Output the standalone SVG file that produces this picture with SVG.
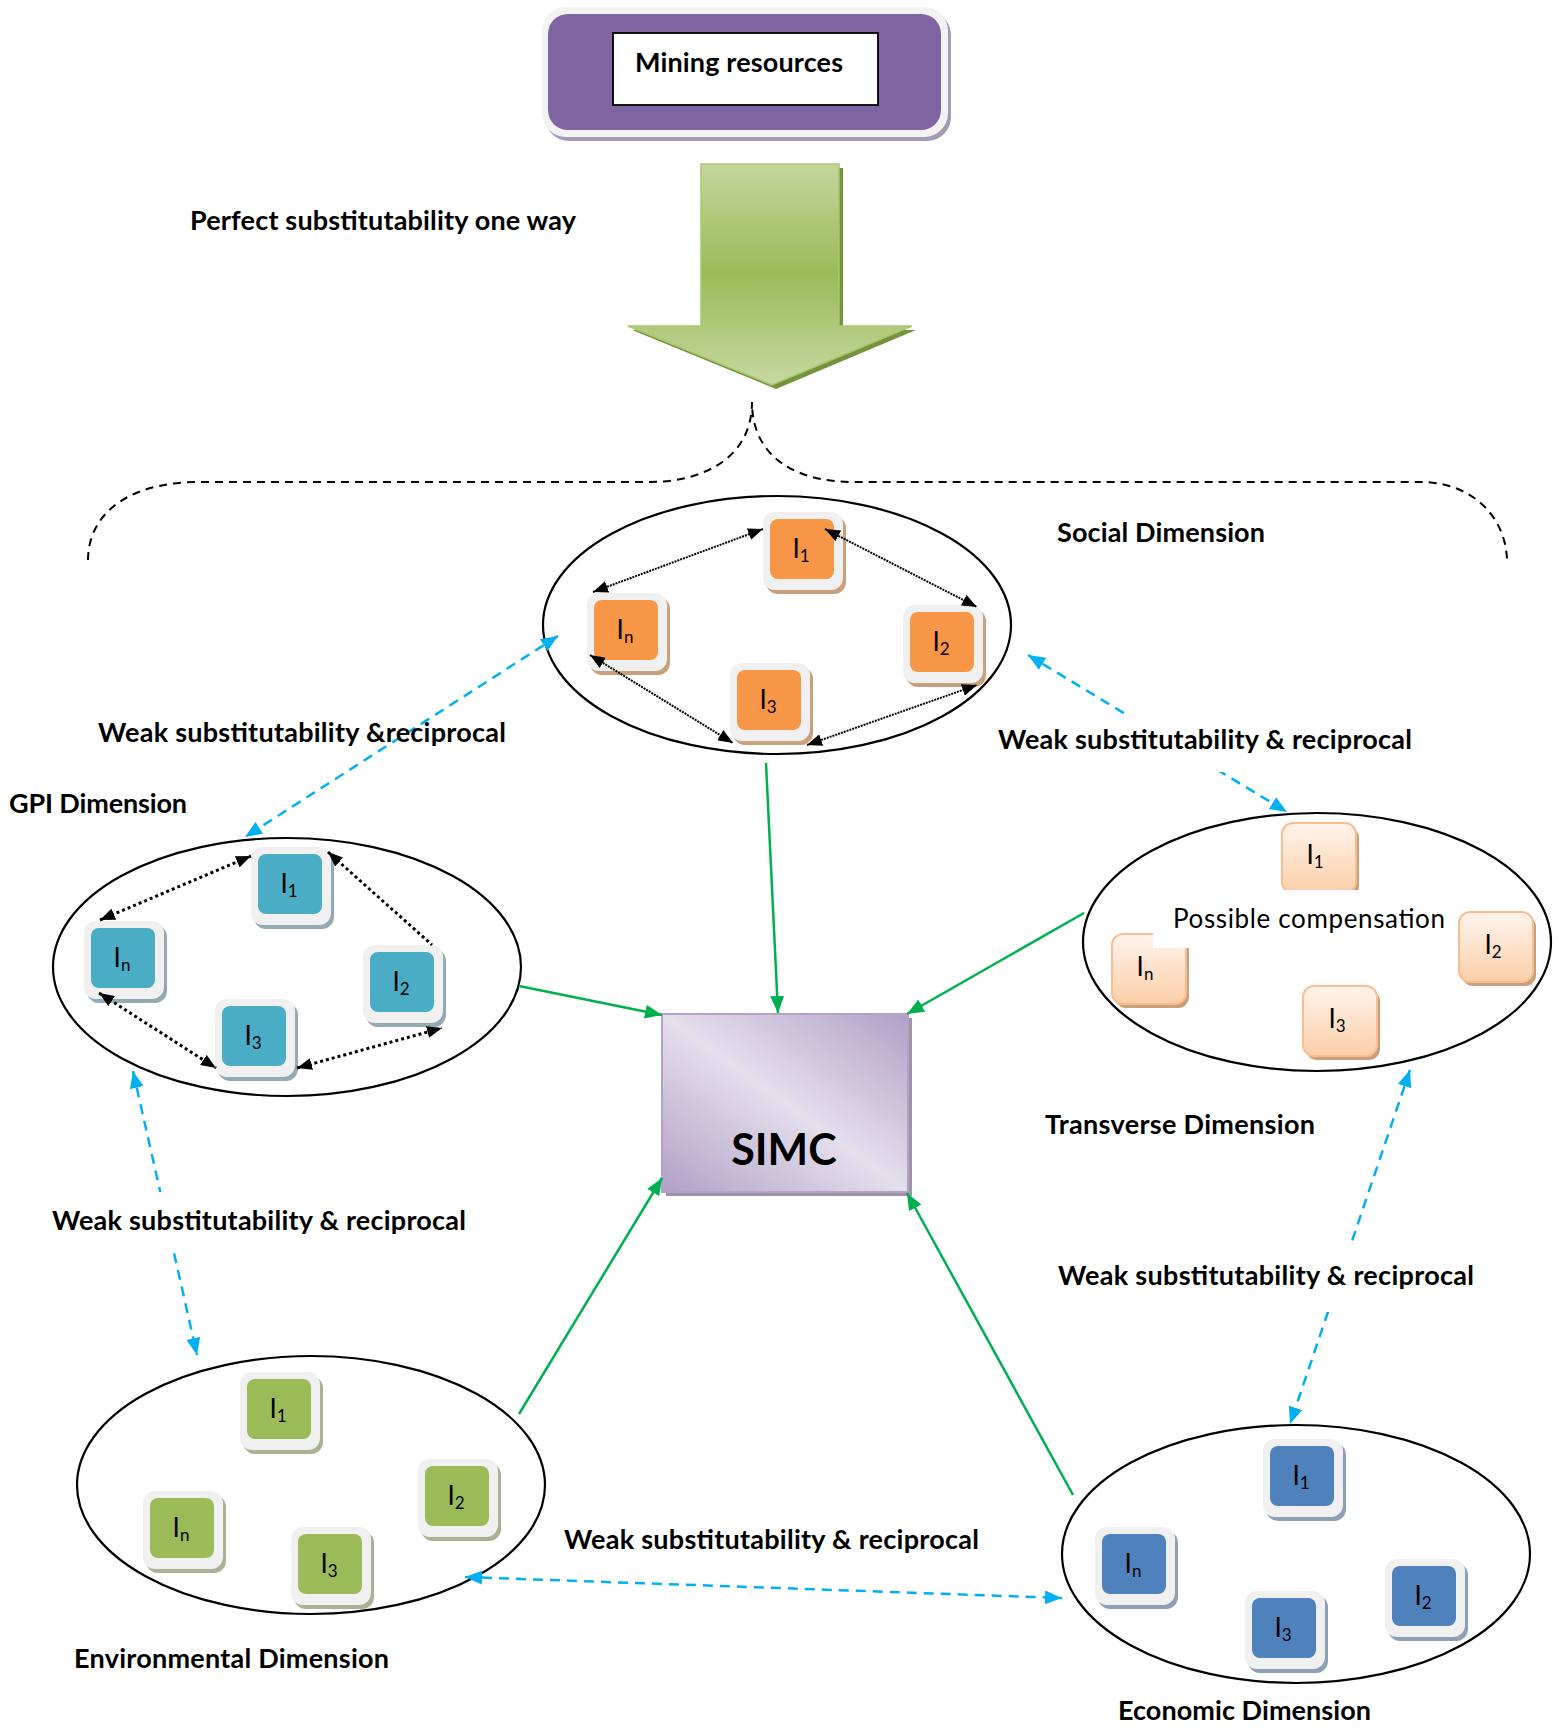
<svg xmlns="http://www.w3.org/2000/svg" width="1560" height="1729" viewBox="0 0 1560 1729">
<style>
.lbl{font-family:Lato,"Open Sans","Liberation Sans",sans-serif;font-weight:bold;font-size:27px;fill:#000}
.t{font-family:Lato,"Open Sans","Liberation Sans",sans-serif;font-size:26px;fill:#000;text-anchor:middle}
.s{font-size:17px}
.ell{fill:none;stroke:#000;stroke-width:2.2}
.tout{fill:#f0f0f0}
.blk{stroke:#000;stroke-width:2;stroke-dasharray:2 1;fill:none}
.dot{stroke:#000;stroke-width:3;stroke-dasharray:3 3;fill:none}
.grn{stroke:#00b050;stroke-width:2.5;fill:none}
.blu{stroke:#00b0f0;stroke-width:2.5;stroke-dasharray:10 7;fill:none}
.bg{fill:#fff}
</style>
<defs>
<marker id="mb" markerUnits="userSpaceOnUse" markerWidth="16" markerHeight="12" refX="15" refY="6" orient="auto-start-reverse"><path d="M0,0 L15,6 L0,12 z" fill="#000"/></marker>
<marker id="mg" markerUnits="userSpaceOnUse" markerWidth="18" markerHeight="14" refX="17" refY="7" orient="auto"><path d="M0,0 L17,7 L0,14 z" fill="#00b050"/></marker>
<marker id="mu" markerUnits="userSpaceOnUse" markerWidth="18" markerHeight="14" refX="17" refY="7" orient="auto-start-reverse"><path d="M0,0 L17,7 L0,14 z" fill="#00b0f0"/></marker>
<linearGradient id="ga" x1="0" y1="0" x2="0" y2="1"><stop offset="0" stop-color="#c3d69b"/><stop offset="0.5" stop-color="#9bbb59"/><stop offset="1" stop-color="#c6d9a0"/></linearGradient>
<linearGradient id="gs" x1="1" y1="0" x2="0" y2="1"><stop offset="0" stop-color="#b1a0c7"/><stop offset="0.5" stop-color="#e5dfec"/><stop offset="1" stop-color="#b1a0c7"/></linearGradient>
<linearGradient id="gp" x1="0" y1="0" x2="0" y2="1"><stop offset="0" stop-color="#fff4ec"/><stop offset="1" stop-color="#fbcfa9"/></linearGradient>
</defs>

<!-- brace -->
<path d="M88,560 C88,520 120,482 200,482 L650,482 C700,482 752,460 752,402 C752,460 800,482 853,482 L1420,482 C1475,482 1507,520 1507,562" fill="none" stroke="#000" stroke-width="2" stroke-dasharray="8 6"/>

<g id="mining">
<rect x="545" y="11" width="406" height="130" rx="24" fill="#a39bb3"/>
<rect x="542" y="7" width="406" height="130" rx="24" fill="#f2f2f2"/>
<rect x="548" y="14" width="393" height="116" rx="20" fill="#8064a2"/>
<rect x="613" y="33" width="265" height="72" fill="#fff" stroke="#000" stroke-width="1.8"/>
<text class="lbl" x="635" y="72" textLength="208">Mining resources</text>
</g>

<g id="bigarrow">
<polygon points="705,168 843,168 843,330 916,330 776,389 632,330 705,330" fill="#76923c"/>
<polygon points="701,164 839,164 839,326 912,326 772,385 628,326 701,326" fill="url(#ga)" stroke="#a9c66f" stroke-width="1.5"/>
</g>
<text class="lbl" x="190" y="230" textLength="386">Perfect substitutability one way</text>

<g id="social">
<ellipse class="ell" cx="777" cy="625" rx="234" ry="129"/>
<g>
<rect x="766" y="516" width="80" height="78" rx="12" fill="#c8a07c"/><rect class="tout" x="763" y="512" width="80" height="78" rx="12"/><rect x="770" y="519" width="64" height="60" rx="8" fill="#f79646"/>
<text class="t" x="801" y="558">I<tspan class="s" dy="4">1</tspan></text>
</g>
<g>
<rect x="590" y="597" width="80" height="78" rx="12" fill="#c8a07c"/><rect class="tout" x="587" y="593" width="80" height="78" rx="12"/><rect x="594" y="600" width="64" height="60" rx="8" fill="#f79646"/>
<text class="t" x="625" y="639">I<tspan class="s" dy="4">n</tspan></text>
</g>
<g>
<rect x="906" y="609" width="80" height="78" rx="12" fill="#c8a07c"/><rect class="tout" x="903" y="605" width="80" height="78" rx="12"/><rect x="910" y="612" width="64" height="60" rx="8" fill="#f79646"/>
<text class="t" x="941" y="651">I<tspan class="s" dy="4">2</tspan></text>
</g>
<g>
<rect x="733" y="667" width="80" height="78" rx="12" fill="#c8a07c"/><rect class="tout" x="730" y="663" width="80" height="78" rx="12"/><rect x="737" y="670" width="64" height="60" rx="8" fill="#f79646"/>
<text class="t" x="768" y="709">I<tspan class="s" dy="4">3</tspan></text>
</g>
<line class="blk" x1="593" y1="592" x2="763" y2="529" marker-start="url(#mb)" marker-end="url(#mb)"/>
<line class="blk" x1="825" y1="529" x2="977" y2="607" marker-start="url(#mb)" marker-end="url(#mb)"/>
<line class="blk" x1="590" y1="655" x2="733" y2="743" marker-start="url(#mb)" marker-end="url(#mb)"/>
<line class="blk" x1="807" y1="745" x2="977" y2="685" marker-start="url(#mb)" marker-end="url(#mb)"/>
</g>
<text class="lbl" x="1057" y="542" textLength="208">Social Dimension</text>

<g id="gpi">
<ellipse class="ell" cx="287" cy="967" rx="234" ry="129"/>
<g>
<rect x="254" y="851" width="80" height="78" rx="12" fill="#93a9b3"/><rect class="tout" x="251" y="847" width="80" height="78" rx="12"/><rect x="258" y="854" width="64" height="60" rx="8" fill="#4bacc6"/>
<text class="t" x="289" y="893">I<tspan class="s" dy="4">1</tspan></text>
</g>
<g>
<rect x="87" y="925" width="80" height="78" rx="12" fill="#93a9b3"/><rect class="tout" x="84" y="921" width="80" height="78" rx="12"/><rect x="91" y="928" width="64" height="60" rx="8" fill="#4bacc6"/>
<text class="t" x="122" y="967">I<tspan class="s" dy="4">n</tspan></text>
</g>
<g>
<rect x="366" y="949" width="80" height="78" rx="12" fill="#93a9b3"/><rect class="tout" x="363" y="945" width="80" height="78" rx="12"/><rect x="370" y="952" width="64" height="60" rx="8" fill="#4bacc6"/>
<text class="t" x="401" y="991">I<tspan class="s" dy="4">2</tspan></text>
</g>
<g>
<rect x="218" y="1003" width="80" height="78" rx="12" fill="#93a9b3"/><rect class="tout" x="215" y="999" width="80" height="78" rx="12"/><rect x="222" y="1006" width="64" height="60" rx="8" fill="#4bacc6"/>
<text class="t" x="253" y="1045">I<tspan class="s" dy="4">3</tspan></text>
</g>
<line class="dot" x1="100" y1="920" x2="251" y2="856" marker-start="url(#mb)" marker-end="url(#mb)"/>
<line class="dot" x1="328" y1="852" x2="432" y2="945" marker-start="url(#mb)"/>
<line class="dot" x1="99" y1="993" x2="216" y2="1068" marker-start="url(#mb)" marker-end="url(#mb)"/>
<line class="dot" x1="297" y1="1068" x2="442" y2="1028" marker-start="url(#mb)" marker-end="url(#mb)"/>
</g>
<text class="lbl" x="9" y="813" textLength="178">GPI Dimension</text>

<g id="transverse">
<ellipse class="ell" cx="1317" cy="942" rx="234" ry="129"/>
<g>
<rect x="1285" y="827" width="74" height="70" rx="11" fill="#c8a07c"/><rect x="1282" y="823" width="74" height="70" rx="11" fill="url(#gp)" stroke="#f9be8f" stroke-width="2"/>
<text class="t" x="1315" y="864">I<tspan class="s" dy="4">1</tspan></text>
</g>
<g>
<rect x="1115" y="938" width="74" height="70" rx="11" fill="#c8a07c"/><rect x="1112" y="934" width="74" height="70" rx="11" fill="url(#gp)" stroke="#f9be8f" stroke-width="2"/>
<text class="t" x="1145" y="976">I<tspan class="s" dy="4">n</tspan></text>
</g>
<g>
<rect x="1462" y="916" width="74" height="70" rx="11" fill="#c8a07c"/><rect x="1459" y="912" width="74" height="70" rx="11" fill="url(#gp)" stroke="#f9be8f" stroke-width="2"/>
<text class="t" x="1493" y="954">I<tspan class="s" dy="4">2</tspan></text>
</g>
<g>
<rect x="1306" y="990" width="74" height="70" rx="11" fill="#c8a07c"/><rect x="1303" y="986" width="74" height="70" rx="11" fill="url(#gp)" stroke="#f9be8f" stroke-width="2"/>
<text class="t" x="1337" y="1028">I<tspan class="s" dy="4">3</tspan></text>
</g>
<rect class="bg" x="1153" y="890" width="300" height="58"/>
<text x="1173" y="928" textLength="272" style="font-family:Lato,'Open Sans','Liberation Sans',sans-serif;font-size:26px;fill:#000">Possible compensation</text>
</g>
<text class="lbl" x="1045" y="1134" textLength="270">Transverse Dimension</text>

<g id="environmental">
<ellipse class="ell" cx="311" cy="1485" rx="234" ry="129"/>
<g>
<rect x="243" y="1376" width="80" height="78" rx="12" fill="#a9b394"/><rect class="tout" x="240" y="1372" width="80" height="78" rx="12"/><rect x="247" y="1379" width="64" height="60" rx="8" fill="#9bbb59"/>
<text class="t" x="278" y="1418">I<tspan class="s" dy="4">1</tspan></text>
</g>
<g>
<rect x="421" y="1463" width="80" height="78" rx="12" fill="#a9b394"/><rect class="tout" x="418" y="1459" width="80" height="78" rx="12"/><rect x="425" y="1466" width="64" height="60" rx="8" fill="#9bbb59"/>
<text class="t" x="456" y="1505">I<tspan class="s" dy="4">2</tspan></text>
</g>
<g>
<rect x="146" y="1495" width="80" height="78" rx="12" fill="#a9b394"/><rect class="tout" x="143" y="1491" width="80" height="78" rx="12"/><rect x="150" y="1498" width="64" height="60" rx="8" fill="#9bbb59"/>
<text class="t" x="181" y="1537">I<tspan class="s" dy="4">n</tspan></text>
</g>
<g>
<rect x="294" y="1531" width="80" height="78" rx="12" fill="#a9b394"/><rect class="tout" x="291" y="1527" width="80" height="78" rx="12"/><rect x="298" y="1534" width="64" height="60" rx="8" fill="#9bbb59"/>
<text class="t" x="329" y="1573">I<tspan class="s" dy="4">3</tspan></text>
</g>
</g>
<text class="lbl" x="74" y="1668" textLength="315">Environmental Dimension</text>

<g id="economic">
<ellipse class="ell" cx="1296" cy="1554" rx="234" ry="129"/>
<g>
<rect x="1266" y="1443" width="80" height="78" rx="12" fill="#8f9fb8"/><rect class="tout" x="1263" y="1439" width="80" height="78" rx="12"/><rect x="1270" y="1446" width="64" height="60" rx="8" fill="#4f81bd"/>
<text class="t" x="1301" y="1485">I<tspan class="s" dy="4">1</tspan></text>
</g>
<g>
<rect x="1098" y="1531" width="80" height="78" rx="12" fill="#8f9fb8"/><rect class="tout" x="1095" y="1527" width="80" height="78" rx="12"/><rect x="1102" y="1534" width="64" height="60" rx="8" fill="#4f81bd"/>
<text class="t" x="1133" y="1573">I<tspan class="s" dy="4">n</tspan></text>
</g>
<g>
<rect x="1248" y="1595" width="80" height="78" rx="12" fill="#8f9fb8"/><rect class="tout" x="1245" y="1591" width="80" height="78" rx="12"/><rect x="1252" y="1598" width="64" height="60" rx="8" fill="#4f81bd"/>
<text class="t" x="1283" y="1637">I<tspan class="s" dy="4">3</tspan></text>
</g>
<g>
<rect x="1388" y="1563" width="80" height="78" rx="12" fill="#8f9fb8"/><rect class="tout" x="1385" y="1559" width="80" height="78" rx="12"/><rect x="1392" y="1566" width="64" height="60" rx="8" fill="#4f81bd"/>
<text class="t" x="1423" y="1605">I<tspan class="s" dy="4">2</tspan></text>
</g>
</g>
<text class="lbl" x="1118" y="1720" textLength="253">Economic Dimension</text>

<g id="simc">
<rect x="666" y="1018" width="246" height="178" fill="#9d94a8"/>
<rect x="662" y="1014" width="246" height="178" fill="url(#gs)" stroke="#b2a2c7" stroke-width="2"/>
<text x="784" y="1165" text-anchor="middle" style="font-family:Lato,'Open Sans','Liberation Sans',sans-serif;font-weight:bold;font-size:43px;fill:#000">SIMC</text>
</g>

<g id="connectors">
<line class="grn" x1="766" y1="763" x2="778" y2="1013" marker-end="url(#mg)"/>
<line class="grn" x1="519" y1="986" x2="662" y2="1015" marker-end="url(#mg)"/>
<line class="grn" x1="1084" y1="913" x2="907" y2="1014" marker-end="url(#mg)"/>
<line class="grn" x1="519" y1="1414" x2="662" y2="1178" marker-end="url(#mg)"/>
<line class="grn" x1="1073" y1="1495" x2="907" y2="1193" marker-end="url(#mg)"/>
<line class="blu" x1="558" y1="636" x2="245" y2="837" marker-start="url(#mu)" marker-end="url(#mu)"/>
<line class="blu" x1="1028" y1="655" x2="1287" y2="812" marker-start="url(#mu)" marker-end="url(#mu)"/>
<line class="blu" x1="133" y1="1071" x2="197" y2="1355" marker-start="url(#mu)" marker-end="url(#mu)"/>
<line class="blu" x1="1410" y1="1070" x2="1290" y2="1424" marker-start="url(#mu)" marker-end="url(#mu)"/>
<line class="blu" x1="465" y1="1577" x2="1062" y2="1598" marker-start="url(#mu)" marker-end="url(#mu)"/>
</g>

<text class="lbl" x="98" y="742" textLength="408">Weak substitutability &amp;reciprocal</text>
<g id="label-rt"><rect class="bg" x="993" y="716" width="425" height="56"/><text class="lbl" x="998" y="749" textLength="414">Weak substitutability &amp; reciprocal</text></g>
<g id="label-lm"><rect class="bg" x="48" y="1192" width="422" height="56"/><text class="lbl" x="52" y="1230" textLength="414">Weak substitutability &amp; reciprocal</text></g>
<g id="label-rm"><rect class="bg" x="1053" y="1247" width="426" height="65"/><text class="lbl" x="1058" y="1285" textLength="416">Weak substitutability &amp; reciprocal</text></g>
<text class="lbl" x="564" y="1549" textLength="415">Weak substitutability &amp; reciprocal</text>
</svg>
